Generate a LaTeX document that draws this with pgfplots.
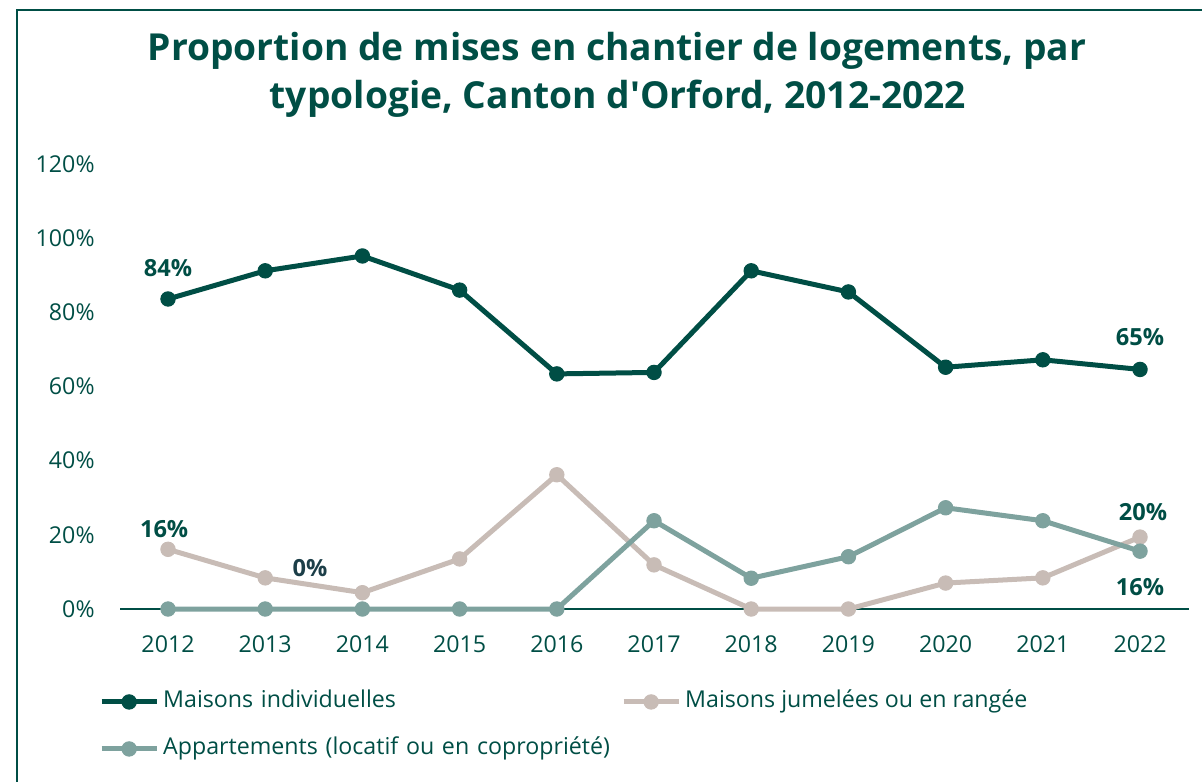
\documentclass[border=0pt]{standalone}
\usepackage{pgfplots}
\pgfplotsset{compat=1.18}
\usepackage{fontspec}
\setmainfont{Open Sans}
\definecolor{darkg}{RGB}{0,78,69}
\definecolor{beige}{RGB}{200,188,182}
\definecolor{tealg}{RGB}{126,162,158}
\definecolor{slate}{RGB}{28,62,72}
\begin{document}
\begin{tikzpicture}[x=0.5pt,y=-0.5pt]
\useasboundingbox (0,0) rectangle (1202,781);
\draw[darkg, line width=1pt] (17,10) rectangle (1300,900);
\node[anchor=base, font=\bfseries\fontsize{18.6pt}{22pt}\selectfont, text=darkg, inner sep=0pt] at (617,61) {Proportion de mises en chantier de logements, par};
\node[anchor=base, font=\bfseries\fontsize{18.6pt}{22pt}\selectfont, text=darkg, inner sep=0pt] at (618,108) {typologie, Canton d\textquotesingle Orford, 2012-2022};
\begin{axis}[
  at={(60pt,-304.5pt)}, anchor=south west,
  scale only axis, width=534.5pt, height=222.5pt,
  xmin=2011.506, xmax=2022.504, ymin=0, ymax=120,
  clip=false,
  axis line style={draw=none},
  major tick length=0pt,
  xtick={2012,2013,...,2022},
  ytick={0,20,...,120},
  /pgf/number format/assume math mode=true,
  /pgf/number format/1000 sep={},
  yticklabel={\pgfmathprintnumber{\tick}\%},
  ticklabel style={font=\fontsize{11.6pt}{14pt}\selectfont, text=darkg, inner sep=0pt},
  y tick label style={anchor=east, xshift=-12.5pt},
  x tick label style={anchor=north, yshift=-13pt},
  legend columns=2,
  legend style={draw=none, fill=none, at={(-0.0195,-0.183)}, anchor=north west,
    inner sep=0pt, outer sep=0pt,
    nodes={inner sep=0pt, text height=8.5pt, text depth=3pt, font=\fontsize{11.6pt}{14pt}\selectfont, text=darkg},
    row sep=12pt,
    /tikz/every odd column/.append style={column sep=2pt},
    /tikz/column 2/.style={nodes={text width=250pt}, column sep=-21pt}},
  legend cell align=left,
  legend image code/.code={\draw[#1, mark repeat=2, mark phase=2] plot coordinates {(0pt,0pt) (13.75pt,0pt) (27.5pt,0pt)};},
  every axis plot/.append style={line width=2.5pt, mark=*, mark size=3.6pt, mark options={solid, line width=0.5pt}},
]
\draw[darkg, line width=1pt] (rel axis cs:0,0) -- (rel axis cs:1,0);
\addplot[darkg] coordinates {
(2012,83.6) (2013,91.2) (2014,95.2) (2015,86.0) (2016,63.4) (2017,63.8) (2018,91.2) (2019,85.5) (2020,65.2) (2021,67.2) (2022,64.6)};
\addlegendentry{Maisons individuelles}
\addplot[beige] coordinates {
(2012,16.1) (2013,8.4) (2014,4.4) (2015,13.5) (2016,36.2) (2017,11.9) (2018,0) (2019,0) (2020,7.0) (2021,8.4) (2022,19.4)};
\addlegendentry{Maisons jumelées ou en rangée}
\addplot[tealg] coordinates {
(2012,0) (2013,0) (2014,0) (2015,0) (2016,0) (2017,23.8) (2018,8.3) (2019,14.1) (2020,27.3) (2021,23.8) (2022,15.6)};
\addlegendentry{Appartements (locatif ou en copropriété)}
\begin{scope}[every node/.style={font=\bfseries\fontsize{11.8pt}{14pt}\selectfont, text=darkg, inner sep=0pt}]
\node at (axis cs:2012,92.0) {84\%};
\node at (axis cs:2022,73.4) {65\%};
\node at (axis cs:2011.96,21.6) {16\%};
\node[text=slate] at (axis cs:2013.46,11.1) {0\%};
\node at (axis cs:2022.03,26.2) {20\%};
\node at (axis cs:2022,5.9) {16\%};
\end{scope}
\end{axis}
\end{tikzpicture}
\end{document}
